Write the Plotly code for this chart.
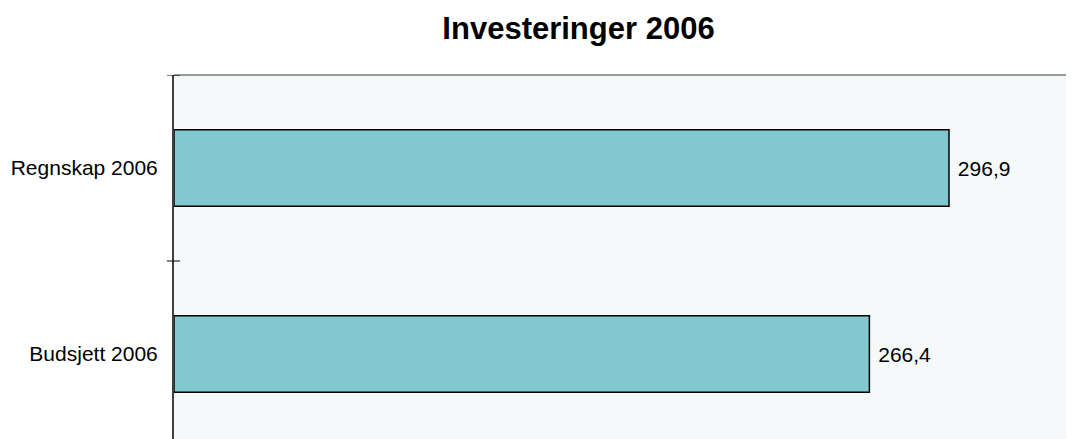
import plotly.graph_objects as go

categories = ["Budsjett 2006", "Regnskap 2006"]
values = [266.4, 296.9]
title_text = "Investeringer 2006"

W, H = 1074, 439
ML, MT = 166, 67
plot_w = W - ML
px_per_unit = 775 / 296.9
x_max = plot_w / px_per_unit

fig = go.Figure()
fig.add_trace(go.Bar(
    y=categories, x=values, orientation="h",
    width=0.41,
    marker=dict(color="#83C8CF", line=dict(color="#000000", width=1.5)),
    text=values, texttemplate="\u00a0%{x:.1f}", textposition="outside",
    textfont=dict(family="Liberation Sans, Arial", size=21, color="#000000"),
    cliponaxis=False,
))

shapes = [
    dict(type="line", xref="paper", yref="paper", x0=0, x1=1, y0=1, y1=1,
         line=dict(color="#999999", width=2)),
]
for yb in [0.5, 1.5]:
    shapes.append(dict(type="line", xref="paper", yref="y", x0=-7 / plot_w, x1=6 / plot_w,
                       y0=yb, y1=yb, line=dict(color="#000000", width=1)))

fig.update_layout(
    width=W, height=H,
    margin=dict(l=ML, r=0, t=MT, b=0, pad=0),
    paper_bgcolor="#FFFFFF",
    plot_bgcolor="#F5F9FA",
    separators=",.",
    showlegend=False,
    title=dict(text="<b>" + title_text + "</b>", x=570.5 / W, xref="container",
               xanchor="center", y=1 - 20 / H, yanchor="middle",
               font=dict(family="Liberation Sans, Arial", size=31, color="#000000")),
    font=dict(family="Liberation Sans, Arial", size=21, color="#000000"),
    xaxis=dict(range=[0, x_max], showgrid=False, zeroline=False, showticklabels=False,
               ticks="", showline=False, fixedrange=True),
    yaxis=dict(range=[-0.5, 1.5], showgrid=False, zeroline=False, ticks="",
               showline=True, linecolor="#404040", linewidth=2,
               ticklabelstandoff=10,
               tickfont=dict(family="Liberation Sans, Arial", size=21, color="#000000")),
    shapes=shapes,
    bargap=0.59,
)

fig.write_html("out.html")
